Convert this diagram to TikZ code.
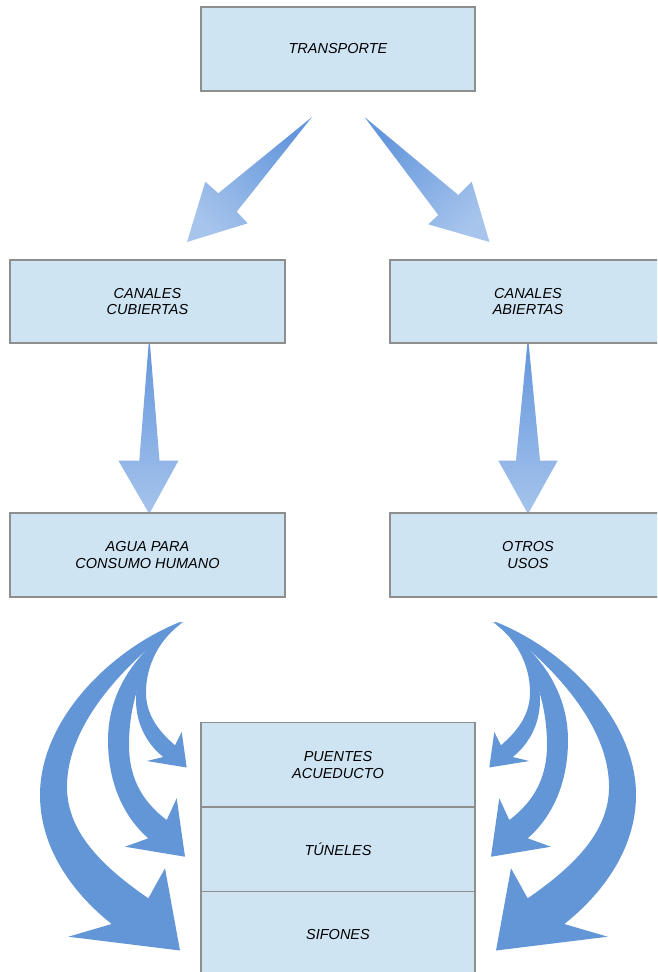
\documentclass[tikz,border=0pt]{standalone}
\usepackage{fontspec}
\setmainfont{Liberation Sans}
\definecolor{boxfill}{HTML}{CFE4F3}
\definecolor{boxline}{HTML}{8E8E8E}
\definecolor{arrdark}{HTML}{6496DC}
\definecolor{arrlight}{HTML}{A6C4EC}
\definecolor{curvblue}{HTML}{6396D6}
\tikzset{
  box/.style={draw=boxline, fill=boxfill, line width=1.2pt, minimum width=275pt,
    minimum height=84pt, align=center, inner sep=0pt,
    font=\fontsize{14.5}{16.7}\selectfont\itshape},
  curv/.style={fill=curvblue},
}
\newcommand{\curvedfan}{%
  % big arrow
  \fill[curv] (180,622) .. controls (110,650) and (40,720) .. (40,795)
    .. controls (40,850) and (75,895) .. (111.7,924)
    -- (68.3,936.7) -- (180,950.5) -- (165,868.3) -- (148.3,898.3)
    .. controls (100,865) and (66,830) .. (67,785)
    .. controls (68,722) and (128,660) .. (182,622) -- cycle;
  % middle arrow
  \fill[curv] (183,622) .. controls (138,648) and (108,690) .. (108,740)
    .. controls (108,785) and (125,818) .. (148.3,838.3)
    -- (125,846.7) -- (185,856.7) -- (176.7,798.3) -- (166.7,820)
    .. controls (140,800) and (129,775) .. (129,745)
    .. controls (129,700) and (145,650) .. (183,622) -- cycle;
  % small arrow
  \fill[curv] (183,622) .. controls (150,640) and (136,670) .. (136,700)
    .. controls (136,725) and (148,745) .. (163.3,757)
    -- (146.7,761) -- (186.7,767.5) -- (181.7,732) -- (175,745.3)
    .. controls (155,728) and (146,712) .. (146,692)
    .. controls (146,665) and (160,638) .. (183,622) -- cycle;
}
\begin{document}
\begin{tikzpicture}[x=1pt,y=-1pt]
\useasboundingbox (0,0) rectangle (657,972);
\clip (0,0) rectangle (657,972);

% straight tapered arrows
\coordinate (t1) at (312,117);
\coordinate (t2) at (364.5,117);
\shade[top color=arrdark, bottom color=arrlight, shading angle=-45]
  (t1) -- (236.7,211.7) -- (247.7,223.3) -- (187,242) -- (205.3,181.7) -- (218.3,193.3) -- cycle;
\shade[top color=arrdark, bottom color=arrlight, shading angle=45]
  (t2) -- (458.3,195) -- (471.7,181.7) -- (489.5,242) -- (428.3,224.3) -- (438.3,215) -- cycle;
\shade[top color=arrdark, bottom color=arrlight]
  (148.8,342) -- (149.8,342) -- (159.5,460.5) -- (178.5,460.5) -- (149.3,514) -- (118.3,460.5) -- (139.3,460.5) -- cycle;
\shade[top color=arrdark, bottom color=arrlight]
  (527.5,342) -- (528.5,342) -- (540,460.5) -- (557.7,460.5) -- (528,514) -- (498.3,460.5) -- (516,460.5) -- cycle;

% curved arrows
\curvedfan
\begin{scope}[shift={(676,0)}, xscale=-1]
  \curvedfan
\end{scope}

% boxes
\node[box, minimum width=274pt] (transporte) at (338,49) {TRANSPORTE};
\node[box, minimum height=83pt] (cubiertas) at (147.5,301.5) {CANALES\\CUBIERTAS};
\node[box, minimum width=276pt, minimum height=83pt] (abiertas) at (528,301.5) {CANALES\\ABIERTAS};
\node[box] (agua) at (147.5,555) {AGUA PARA\\CONSUMO HUMANO};
\node[box, minimum width=276pt] (otros) at (528,555) {OTROS\\USOS};
\node[box, minimum width=274pt, minimum height=84.7pt] (puentes) at (338,764.65) {PUENTES\\ACUEDUCTO};
\node[box, minimum width=274pt, minimum height=84.7pt] (tuneles) at (338,849.35) {TÚNELES};
\node[box, minimum width=274pt, minimum height=84.7pt] (sifones) at (338,934.05) {SIFONES};
\end{tikzpicture}
\end{document}
